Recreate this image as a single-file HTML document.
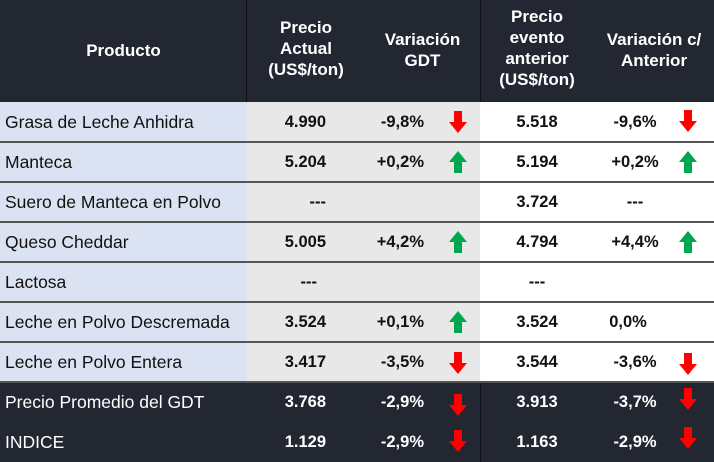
<!DOCTYPE html><html><head><meta charset="utf-8"><style>
body{margin:0;width:714px;height:462px;overflow:hidden;font-family:"Liberation Sans",sans-serif;position:relative;background:#fff}
div{position:absolute;box-sizing:border-box}
.h{color:#fff;font-weight:bold;font-size:17px;text-align:center;line-height:21px}
.t{font-size:17.5px;left:5px;line-height:40px;color:#111}
.n{font-weight:bold;font-size:16.5px;line-height:40px;color:#111}
.w{color:#fff}
.line{left:0;width:714px;height:2px;background:#555}
svg{position:absolute}
</style></head><body>
<div style="left:0;top:0;width:714px;height:102px;background:#222732"></div>
<div style="left:0;top:102px;width:247px;height:280px;background:#dbe2f1"></div>
<div style="left:247px;top:102px;width:233px;height:280px;background:#e8e8e8"></div>
<div style="left:0;top:382px;width:714px;height:80px;background:#222732"></div>
<div style="left:246px;top:0;width:1px;height:102px;background:#111"></div>
<div style="left:480px;top:0;width:1px;height:102px;background:#111"></div>
<div style="left:480px;top:382px;width:1px;height:80px;background:#111"></div>
<div class="h" style="left:0;width:247px;top:40px">Producto</div>
<div class="h" style="left:247px;width:118px;top:17px">Precio<br>Actual<br>(US$/ton)</div>
<div class="h" style="left:365px;width:115px;top:29px">Variación<br>GDT</div>
<div class="h" style="left:480px;width:114px;top:6px">Precio<br>evento<br>anterior<br>(US$/ton)</div>
<div class="h" style="left:594px;width:120px;top:29px">Variación c/<br>Anterior</div>
<div class="line" style="top:141px"></div><div class="line" style="top:181px"></div><div class="line" style="top:221px"></div><div class="line" style="top:261px"></div><div class="line" style="top:301px"></div><div class="line" style="top:341px"></div><div class="line" style="top:381px"></div>
<div class="t" style="top:102px">Grasa de Leche Anhidra</div>
<div class="t" style="top:142px">Manteca</div>
<div class="t" style="top:182px">Suero de Manteca en Polvo</div>
<div class="t" style="top:222px">Queso Cheddar</div>
<div class="t" style="top:262px">Lactosa</div>
<div class="t" style="top:302px">Leche en Polvo Descremada</div>
<div class="t" style="top:342px">Leche en Polvo Entera</div>
<div class="t w" style="top:382px">Precio Promedio del GDT</div>
<div class="t w" style="top:422px">INDICE</div>
<div class="n" style="top:102px;left:247px;width:79px;text-align:right">4.990</div>
<div class="n" style="top:142px;left:247px;width:79px;text-align:right">5.204</div>
<div class="n" style="top:182px;left:247px;width:79px;text-align:right">---</div>
<div class="n" style="top:222px;left:247px;width:79px;text-align:right">5.005</div>
<div class="n" style="top:262px;left:247px;width:70px;text-align:right">---</div>
<div class="n" style="top:302px;left:247px;width:79px;text-align:right">3.524</div>
<div class="n" style="top:342px;left:247px;width:79px;text-align:right">3.417</div>
<div class="n w" style="top:382px;left:247px;width:79px;text-align:right">3.768</div>
<div class="n w" style="top:422px;left:247px;width:79px;text-align:right">1.129</div>
<div class="n" style="top:102px;left:360px;width:64px;text-align:right">-9,8%</div>
<div class="n" style="top:142px;left:360px;width:64px;text-align:right">+0,2%</div>
<div class="n" style="top:222px;left:360px;width:64px;text-align:right">+4,2%</div>
<div class="n" style="top:302px;left:360px;width:64px;text-align:right">+0,1%</div>
<div class="n" style="top:342px;left:360px;width:64px;text-align:right">-3,5%</div>
<div class="n w" style="top:382px;left:360px;width:64px;text-align:right">-2,9%</div>
<div class="n w" style="top:422px;left:360px;width:64px;text-align:right">-2,9%</div>
<div class="n" style="top:102px;left:480px;width:114px;text-align:center">5.518</div>
<div class="n" style="top:142px;left:480px;width:114px;text-align:center">5.194</div>
<div class="n" style="top:182px;left:480px;width:114px;text-align:center">3.724</div>
<div class="n" style="top:222px;left:480px;width:114px;text-align:center">4.794</div>
<div class="n" style="top:262px;left:480px;width:114px;text-align:center">---</div>
<div class="n" style="top:302px;left:480px;width:114px;text-align:center">3.524</div>
<div class="n" style="top:342px;left:480px;width:114px;text-align:center">3.544</div>
<div class="n w" style="top:382px;left:480px;width:114px;text-align:center">3.913</div>
<div class="n w" style="top:422px;left:480px;width:114px;text-align:center">1.163</div>
<div class="n" style="top:102px;left:600px;width:70px;text-align:center">-9,6%</div>
<div class="n" style="top:142px;left:600px;width:70px;text-align:center">+0,2%</div>
<div class="n" style="top:182px;left:600px;width:70px;text-align:center">---</div>
<div class="n" style="top:222px;left:600px;width:70px;text-align:center">+4,4%</div>
<div class="n" style="top:302px;left:600px;width:56px;text-align:center">0,0%</div>
<div class="n" style="top:342px;left:600px;width:70px;text-align:center">-3,6%</div>
<div class="n w" style="top:382px;left:600px;width:70px;text-align:center">-3,7%</div>
<div class="n w" style="top:422px;left:600px;width:70px;text-align:center">-2,9%</div>
<svg width="714" height="462" style="left:0;top:0">
<defs>
<path id="d" d="M-4,-11H4V0H9L0,11L-9,0H-4Z" fill="#f00"/>
<path id="u" d="M-4,11H4V0H9L0,-11L-9,0H-4Z" fill="#00a650"/>
</defs>
<use href="#d" x="458" y="122"/><use href="#u" x="458" y="162"/><use href="#u" x="458" y="242"/><use href="#u" x="458" y="322"/><use href="#d" x="458" y="363"/><use href="#d" x="458" y="405"/><use href="#d" x="458" y="441"/>
<use href="#d" x="688" y="121"/><use href="#u" x="688" y="162"/><use href="#u" x="688" y="242"/><use href="#d" x="688" y="364"/><use href="#d" x="688" y="399"/><use href="#d" x="688" y="438"/>
</svg>
</body></html>
